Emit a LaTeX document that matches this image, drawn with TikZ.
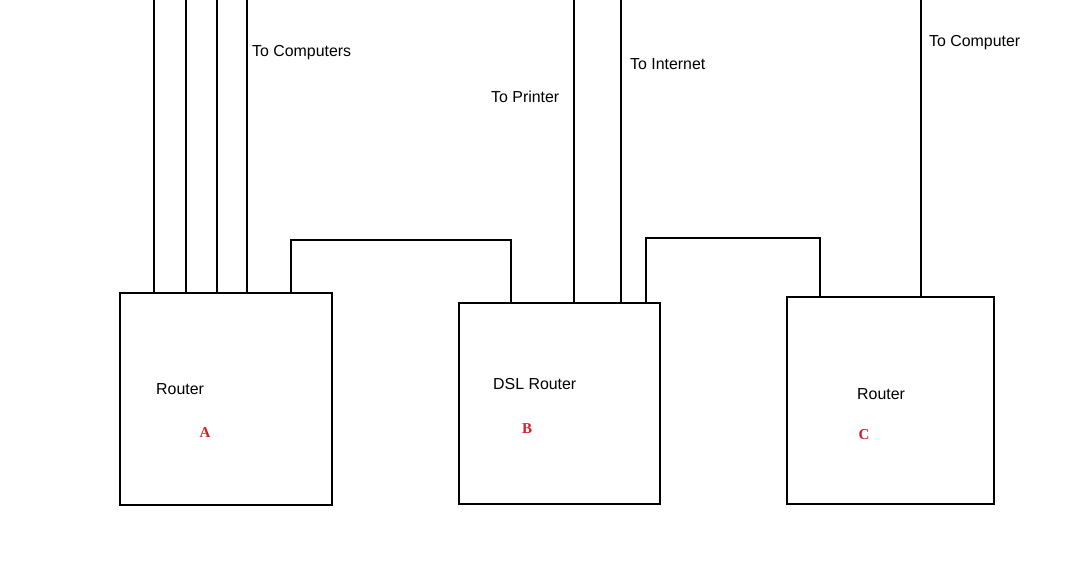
\documentclass[tikz,border=0pt]{standalone}
\usepackage{fontspec}
\setmainfont{Liberation Sans}
\newfontfamily\serifbold{Liberation Serif}
\definecolor{lblred}{RGB}{215,28,38}
\begin{document}
\begin{tikzpicture}[x=1pt,y=-1pt,
  box/.style={draw,line width=1.1pt,inner sep=0pt,outer sep=0pt},
  wire/.style={line width=1.1pt},
  lbl/.style={anchor=west,inner sep=0pt,font=\fontsize{15.9}{18}\selectfont},
  tag/.style={text=lblred,inner sep=0pt,font=\serifbold\bfseries\fontsize{15}{17}\selectfont}]
\useasboundingbox (0,0) rectangle (1083,580);
% boxes
\node[box,minimum width=212pt,minimum height=212pt] (A) at (226,399) {};
\node[box,minimum width=201pt,minimum height=201pt] (B) at (559.5,403.5) {};
\node[box,minimum width=207pt,minimum height=207pt] (C) at (890.5,400.5) {};
% texts in boxes
\node[lbl] (rA) at (156,389) {Router};
\node[tag] (tA) at (205,433) {A};
\node[lbl] (rB) at (493,384) {DSL Router};
\node[tag] (tB) at (527,429) {B};
\node[lbl] (rC) at (857,394) {Router};
\node[tag] (tC) at (864,435) {C};
% top wires
\coordinate (a1) at (154,0);
\coordinate (a2) at (186,0);
\coordinate (a3) at (217,0);
\coordinate (a4) at (247,0);
\coordinate (b1) at (574,0);
\coordinate (b2) at (621,0);
\coordinate (c1) at (921,0);
\foreach \p in {a1,a2,a3,a4} \draw[wire] (\p) -- (\p |- A.north);
\foreach \p in {b1,b2} \draw[wire] (\p) -- (\p |- B.north);
\draw[wire] (c1) -- (c1 |- C.north);
% links between routers
\coordinate (ab1) at (291,240);
\coordinate (ab2) at (511,240);
\draw[wire] (ab1 |- A.north) -- (ab1) -- (ab2) -- (ab2 |- B.north);
\coordinate (bc1) at (646,238);
\coordinate (bc2) at (820,238);
\draw[wire] (bc1 |- B.north) -- (bc1) -- (bc2) -- (bc2 |- C.north);
% labels
\node[lbl] (lcomp) at (252,53) {To Computers};
\node[lbl] (lprint) at (491,97) {To Printer};
\node[lbl] (lnet) at (630,64) {To Internet};
\node[lbl] (lcomp2) at (929,43) {To Computer};
\end{tikzpicture}
\end{document}
